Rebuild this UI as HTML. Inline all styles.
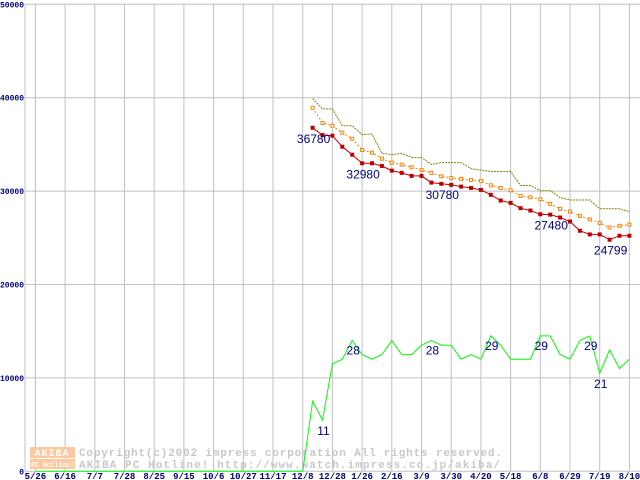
<!DOCTYPE html>
<html><head><meta charset="utf-8"><style>
html,body{margin:0;padding:0;background:#fff;}
svg{display:block;font-family:"Liberation Mono","DejaVu Sans Mono",monospace;}
</style></head><body>
<svg id="chart" width="640" height="480" viewBox="0 0 640 480" xmlns="http://www.w3.org/2000/svg">
<g id="grid"></g>
<g id="yaxis"></g>
<g id="xaxis"></g>
<g id="watermark">
  <rect x="30" y="447" width="45" height="11" fill="#fbc9a0"/>
  <text x="52" y="456" font-size="10" font-weight="bold" fill="#fff" text-anchor="middle" letter-spacing="1">AKIBA</text>
  <rect x="30" y="459" width="45" height="10" fill="#fbc9a0"/>
  <text x="31" y="467" font-size="7" font-weight="bold" fill="#fff" textLength="43" lengthAdjust="spacingAndGlyphs">PC Hotline!</text>
  <text x="79" y="456" font-size="11" font-weight="bold" fill="#c8c8c8" textLength="423" lengthAdjust="spacing">Copyright(c)2002 impress corporation All rights reserved.</text>
  <text x="79" y="468" font-size="11" font-weight="bold" fill="#c8c8c8" textLength="421" lengthAdjust="spacing">AKIBA PC Hotline! http://www.watch.impress.co.jp/akiba/</text>
</g>
<g id="series"></g>
<g id="labels"></g>
</svg>
<script>
const xLabels=["5/26","6/16","7/7","7/28","8/25","9/15","10/6","10/27","11/17","12/8","12/28","1/26","2/16","3/9","3/30","4/20","5/18","6/8","6/29","7/19","8/10"];
const yTicks=[0,10000,20000,30000,40000,50000];
const priceStart=28;
const minPrice=[36780,36000,35930,34750,33900,32980,32980,32690,32190,31950,31630,31630,30910,30780,30670,30480,30340,30130,29600,28990,28740,28170,27920,27520,27480,27170,26740,25750,25360,25360,24799,25220,25220];
const avgPrice=[38920,37290,37000,36250,35610,34400,34120,33470,33050,32830,32550,32270,31950,31580,31410,31310,31200,31090,30620,30340,30090,29490,29340,29130,28630,28100,27810,27350,26960,26600,26100,26280,26420];
const maxPrice=[39900,38800,38800,37000,37000,36050,36100,34050,33900,34050,33600,33600,32850,33050,33050,33050,32400,32250,32100,32100,32100,30600,30600,30050,30050,29300,29050,29050,29050,28100,28100,28100,27800];
const shopCount=[0,0,0,0,0,0,0,0,0,0,0,0,0,0,0,0,0,0,0,0,0,0,0,0,0,0,0,0,15,11,23,24,28,25,24,25,28,25,25,27,28,27,27,24,25,24,29,27,24,24,24,29,29,25,24,28,29,21,26,22,24];
const priceLabels=[[0,"36780"],[5,"32980"],[13,"30780"],[24,"27480"],[30,"24799"]];
const shopLabels=[[29,"11"],[32,"28"],[40,"28"],[46,"29"],[51,"29"],[56,"29"],[57,"21"]];

const NS="http://www.w3.org/2000/svg";
const X0=35.4, WK=9.9, Y0=471.3, YTOP=4.3, LEFT=25;
const x=w=>X0+w*WK;
const y=v=>Y0-(v/50000)*(Y0-YTOP);
const y2=v=>Y0-(v/100)*(Y0-YTOP);
function mk(tag,attrs,parent){const e=document.createElementNS(NS,tag);for(const k in attrs)e.setAttribute(k,attrs[k]);parent.appendChild(e);return e;}
const grid=document.getElementById('grid'),yax=document.getElementById('yaxis'),xax=document.getElementById('xaxis'),ser=document.getElementById('series'),lab=document.getElementById('labels');

yTicks.forEach(v=>{
  const l=mk('line',{x1:LEFT,x2:640,y1:y(v),y2:y(v),stroke:'#c0c0c0','stroke-width':1},grid);
  
  
  const s=String(v);
  const attrs={x:24,y:y(v)+3,'font-size':8,'font-weight':'bold',fill:'#000080','text-anchor':'end'};
  if(s.length>1){attrs.textLength=24;attrs.lengthAdjust='spacingAndGlyphs';attrs.x=0;attrs['text-anchor']='start';}
  const t=mk('text',attrs,yax);
  t.textContent=s;
  
  
});
xLabels.forEach((s,i)=>{
  const xx=x(i*3);
  const l=mk('line',{x1:xx,x2:xx,y1:YTOP,y2:Y0,stroke:'#c0c0c0','stroke-width':1},grid);
  
  
  const t=mk('text',{x:xx,y:479,'font-size':9,'font-weight':'bold',fill:'#000080','text-anchor':'middle'},xax);
  t.textContent=s;
  
  
});
const ax=mk('line',{x1:LEFT,x2:LEFT,y1:YTOP,y2:Y0,stroke:'#c0c0c0','stroke-width':1},yax);



function pts(arr,start,fy){return arr.map((v,i)=>x(start+i).toFixed(1)+','+fy(v).toFixed(1)).join(' ');}
const g=mk('polyline',{points:pts(shopCount,0,y2),fill:'none',stroke:'#00ff00','stroke-width':1},ser);


const mx=mk('polyline',{points:pts(maxPrice,priceStart,y),fill:'none',stroke:'#808000','stroke-width':1,'stroke-dasharray':'2,1'},ser);


const av=mk('polyline',{points:pts(avgPrice,priceStart,y),fill:'none',stroke:'#ff8000','stroke-width':1,'stroke-dasharray':'2,2'},ser);


avgPrice.forEach((v,i)=>{
  const r=mk('rect',{x:x(priceStart+i)-1.5,y:y(v)-1.5,width:3,height:3,fill:'#fff',stroke:'#ff8000','stroke-width':1},ser);
  
  
});
const mn=mk('polyline',{points:pts(minPrice,priceStart,y),fill:'none',stroke:'#c00000','stroke-width':1},ser);


minPrice.forEach((v,i)=>{
  const r=mk('rect',{x:x(priceStart+i)-2,y:y(v)-2,width:4,height:4,fill:'#c00000'},ser);
  
  
});
priceLabels.forEach(([i,s])=>{
  const t=mk('text',{x:x(priceStart+i)+1,y:y(minPrice[i])+15,'font-size':12,fill:'#000080','text-anchor':'middle',
    'font-family':'Liberation Sans, sans-serif'},lab);
  t.textContent=s;
  
  
});
shopLabels.forEach(([w,s])=>{
  const below=(w===29||w===57);
  const t=mk('text',{x:x(w)+1,y:below?y2(shopCount[w])+15:y2(shopCount[w])+14,'font-size':12,fill:'#000080','text-anchor':'middle',
    'font-family':'Liberation Sans, sans-serif'},lab);
  t.textContent=s;
  
  
});
</script>
</body></html>
